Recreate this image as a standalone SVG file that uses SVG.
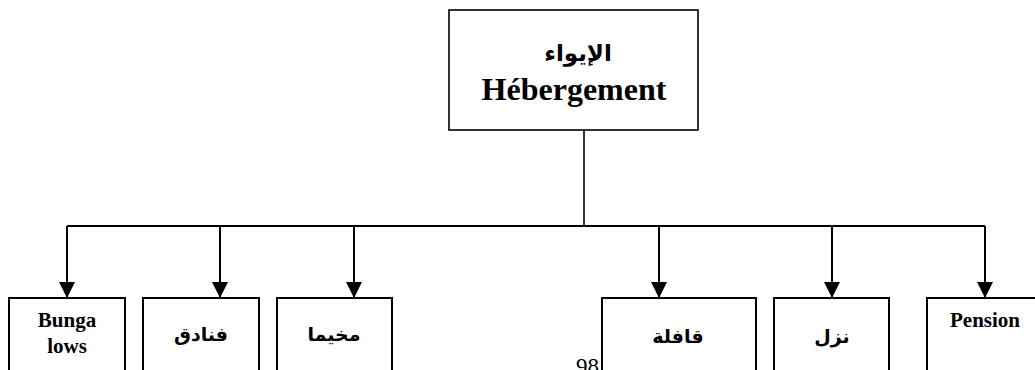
<svg xmlns="http://www.w3.org/2000/svg" width="1035" height="370" viewBox="0 0 1035 370">
<style>
.box{fill:#fff;stroke:#000;stroke-width:2}
.top{fill:#fff;stroke:#000;stroke-width:1.6}
.lat{font-family:"Liberation Serif","Times New Roman",serif;font-weight:bold;fill:#000;text-anchor:middle}
.ar{font-family:"Liberation Serif","DejaVu Sans","Noto Sans",sans-serif;font-weight:bold;fill:#000;text-anchor:middle}
.ln{fill:none;stroke:#000;stroke-width:2}
</style>
<defs>
<marker id="arr" markerWidth="16" markerHeight="16" refX="16" refY="8" orient="auto" markerUnits="userSpaceOnUse">
<path d="M0,0 L16,8 L0,16 Z" fill="#000"/>
</marker>
</defs>
<rect width="1035" height="370" fill="#fff"/>
<text x="576" y="374" font-family="Liberation Serif, serif" font-size="23" fill="#000">98</text>
<g id="connectors">
<line x1="584" y1="130" x2="584" y2="226" stroke="#000" stroke-width="1.6"/>
<line class="ln" x1="67" y1="226" x2="985" y2="226"/>
<line class="ln" x1="67" y1="226" x2="67" y2="298" marker-end="url(#arr)"/>
<line class="ln" x1="220" y1="226" x2="220" y2="298" marker-end="url(#arr)"/>
<line class="ln" x1="354" y1="226" x2="354" y2="298" marker-end="url(#arr)"/>
<line class="ln" x1="659" y1="226" x2="659" y2="298" marker-end="url(#arr)"/>
<line class="ln" x1="832" y1="226" x2="832" y2="298" marker-end="url(#arr)"/>
<line class="ln" x1="985" y1="226" x2="985" y2="298" marker-end="url(#arr)"/>
</g>
<g id="node-root">
<rect class="top" x="449" y="10" width="249" height="120"/>
<text class="ar" x="578" y="61" font-size="23" direction="rtl">الإيواء</text>
<text class="lat" x="574" y="100" font-size="32">Hébergement</text>
</g>
<g id="node-bungalows">
<rect class="box" x="9" y="298" width="116" height="90"/>
<text class="lat" x="67" y="327" font-size="21">Bunga</text>
<text class="lat" x="67" y="353" font-size="21">lows</text>
</g>
<g id="node-fanadiq">
<rect class="box" x="143" y="298" width="116" height="90"/>
<text class="ar" x="201" y="341" font-size="19" direction="rtl">فنادق</text>
</g>
<g id="node-mukhayam">
<rect class="box" x="277" y="298" width="115" height="90"/>
<text class="ar" x="334" y="341" font-size="19" direction="rtl">مخيما</text>
</g>
<g id="node-qafila">
<rect class="box" x="602" y="298" width="154" height="90"/>
<text class="ar" x="678" y="343" font-size="19" direction="rtl">قافلة</text>
</g>
<g id="node-nuzul">
<rect class="box" x="774" y="298" width="115" height="90"/>
<text class="ar" x="832" y="343" font-size="19" direction="rtl">نزل</text>
</g>
<g id="node-pension">
<rect class="box" x="927" y="298" width="120" height="90"/>
<text class="lat" x="985" y="327" font-size="21">Pension</text>
</g>
</svg>
